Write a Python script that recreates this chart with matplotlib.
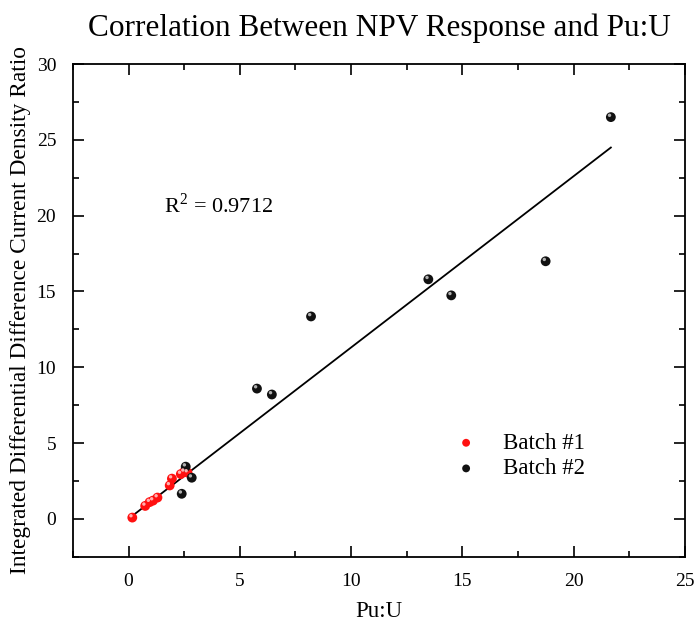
import numpy as np
import matplotlib
matplotlib.use("Agg")
import matplotlib.pyplot as plt
from matplotlib.ticker import MultipleLocator

plt.rcParams["font.family"] = ["Liberation Serif", "DejaVu Serif"]
plt.rcParams["mathtext.fontset"] = "custom"
plt.rcParams["mathtext.rm"] = "Liberation Serif"

# Batch #1 (red)
b1_x = [0.17, 0.75, 0.95, 1.1, 1.3, 1.85, 1.95, 2.35, 2.65, 2.5]
b1_y = [0.08, 0.85, 1.1, 1.2, 1.4, 2.2, 2.65, 2.95, 3.05, 3.1]
# Batch #2 (black)
b2_x = [2.39, 2.57, 2.84, 5.77, 6.44, 8.2, 13.47, 14.5, 18.74, 21.67]
b2_y = [1.65, 3.44, 2.71, 8.59, 8.2, 13.35, 15.8, 14.74, 16.99, 26.5]
r2_text = "R$^2$ = 0.9712"


def ball(ax, x, y, base, light, label):
    # shaded sphere look: dark disc plus a small offset highlight
    ax.scatter(x, y, s=50, c=base, edgecolors="none", zorder=3, label=label)
    ax.scatter(np.array(x) - 0.06, np.array(y) + 0.12, s=6, c=light,
               edgecolors="none", zorder=4)


fig = plt.figure(figsize=(6.94, 6.22), dpi=100)
ax = fig.add_axes([0.105, 0.105, 0.882, 0.792])

# linear fit through the origin
all_x = np.array(b1_x + b2_x)
all_y = np.array(b1_y + b2_y)
k = np.sum(all_x * all_y) / np.sum(all_x ** 2)
xf = np.array([all_x.min(), all_x.max()])
ax.plot(xf, k * xf, color="black", lw=1.3, zorder=2)

ball(ax, b1_x, b1_y, "#ff1010", "#ffb0b0", "Batch #1")
ball(ax, b2_x, b2_y, "#111111", "#b0b0b0", "Batch #2")

ax.set_xlim(-2.5, 25)
ax.set_ylim(-2.5, 30)
ax.xaxis.set_major_locator(MultipleLocator(5))
ax.xaxis.set_minor_locator(MultipleLocator(2.5))
ax.yaxis.set_major_locator(MultipleLocator(5))
ax.yaxis.set_minor_locator(MultipleLocator(2.5))
ax.tick_params(which="both", direction="in", top=True, right=True,
               labelsize=14, width=1.2)
ax.tick_params(which="major", length=8, pad=12)
ax.tick_params(which="minor", length=4)
for sp in ax.spines.values():
    sp.set_linewidth(1.3)

ax.set_xlabel("Pu:U", fontsize=16.5, labelpad=8)
ax.set_ylabel("Integrated Differential Difference Current Density Ratio",
              fontsize=16.8, labelpad=4)
ax.set_title("Correlation Between NPV Response and Pu:U", fontsize=22.5, pad=20)

ax.text(1.6, 20.2, r2_text, fontsize=16)

leg = ax.legend(loc="lower right", bbox_to_anchor=(0.87, 0.115), frameon=False,
                fontsize=16.5, handletextpad=0.6, markerscale=0.8,
                labelspacing=0.2)

fig.savefig("out.png", dpi=100, facecolor="white")
